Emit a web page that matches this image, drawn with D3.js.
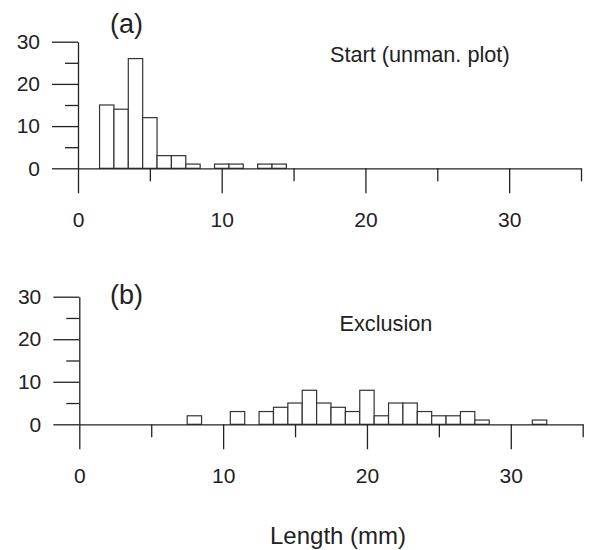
<!DOCTYPE html>
<html>
<head>
<meta charset="utf-8">
<script src="https://cdn.jsdelivr.net/npm/d3@7"></script>
<style>
  html, body { margin: 0; padding: 0; background: #fff; }
  svg { display: block; }
  text { font-family: "Liberation Sans", Arial, Helvetica, sans-serif; fill: #222; }
</style>
</head>
<body>
<svg id="chart" width="589" height="550"></svg>
<script>
// ---- Data ----
const binCentersA = [1, 2, 3, 4, 5, 6, 7, 8, 9, 10, 11, 12, 13, 14, 15];
const countsA     = [0, 15, 14, 26, 12, 3, 3, 1, 0, 1, 1, 0, 1, 1, 0];

const binCentersB = [8, 9, 10, 11, 12, 13, 14, 15, 16, 17, 18, 19, 20, 21, 22, 23, 24, 25, 26, 27, 28, 29, 30, 31, 32];
const countsB     = [2, 0, 0, 3, 0, 3, 4, 5, 8, 5, 4, 3, 8, 2, 5, 5, 3, 2, 2, 3, 1, 0, 0, 0, 1];

const binWidth = 1;
const xMajorTicks = [0, 10, 20, 30];
const xMinorTicks = [5, 15, 25, 35];
const yMajorTicks = [0, 10, 20, 30];
const yMinorTicks = [5, 15, 25];
const panelLabels = ["(a)", "(b)"];
const panelTitles = ["Start (unman. plot)", "Exclusion"];
const xAxisTitle = "Length (mm)";

// ---- Drawing ----
const svg = d3.select("#chart");
const ink = "#222";

const panels = [
  { centers: binCentersA, counts: countsA, x0: 78, x1: 581, y0: 168.3, y1: 41.7,
    label: panelLabels[0], labelPos: [110, 33], title: panelTitles[0], titlePos: [330, 62] },
  { centers: binCentersB, counts: countsB, x0: 79.3, x1: 582.7, y0: 424.3, y1: 296.7,
    label: panelLabels[1], labelPos: [110, 303.5], title: panelTitles[1], titlePos: [339.5, 331] }
];

panels.forEach(p => {
  const x = d3.scaleLinear().domain([0, 35]).range([p.x0, p.x1]);
  const y = d3.scaleLinear().domain([0, 30]).range([p.y0, p.y1]);
  const g = svg.append("g");

  // bars
  g.selectAll("rect.bar")
    .data(p.centers.map((c, i) => ({ c, v: p.counts[i] })))
    .join("rect")
    .attr("class", "bar")
    .attr("x", d => x(d.c - binWidth / 2))
    .attr("width", d => x(d.c + binWidth / 2) - x(d.c - binWidth / 2))
    .attr("y", d => y(d.v))
    .attr("height", d => y(0) - y(d.v))
    .attr("fill", "#fff")
    .attr("stroke", "#333")
    .attr("stroke-width", 1.2);

  // x axis: minor ticks
  g.append("g")
    .attr("transform", `translate(0,${y(0)})`)
    .call(d3.axisBottom(x).tickValues(xMinorTicks).tickSize(13).tickSizeOuter(0).tickFormat(""))
    .call(a => a.attr("color", ink))
    .call(a => a.selectAll("line,path").attr("stroke-width", 1.3));

  // x axis: major ticks with labels
  g.append("g")
    .attr("transform", `translate(0,${y(0)})`)
    .call(d3.axisBottom(x).tickValues(xMajorTicks).tickSize(25).tickSizeOuter(0).tickPadding(18.5).tickFormat(d3.format("d")))
    .call(a => a.attr("color", ink))
    .call(a => a.select(".domain").remove())
    .call(a => a.selectAll("line").attr("stroke-width", 1.3))
    .call(a => a.selectAll("text").attr("font-size", 21).attr("font-family", null));

  // y axis: minor ticks
  g.append("g")
    .attr("transform", `translate(${x(0)},0)`)
    .call(d3.axisLeft(y).tickValues(yMinorTicks).tickSize(13).tickSizeOuter(0).tickFormat(""))
    .call(a => a.attr("color", ink))
    .call(a => a.selectAll("line,path").attr("stroke-width", 1.3));

  // y axis: major ticks with labels
  g.append("g")
    .attr("transform", `translate(${x(0)},0)`)
    .call(d3.axisLeft(y).tickValues(yMajorTicks).tickSize(26).tickSizeOuter(0).tickPadding(12).tickFormat(d3.format("d")))
    .call(a => a.attr("color", ink))
    .call(a => a.select(".domain").remove())
    .call(a => a.selectAll("line").attr("stroke-width", 1.3))
    .call(a => a.selectAll("text").attr("font-size", 21).attr("font-family", null));

  // panel label and title
  g.append("text")
    .attr("x", p.labelPos[0]).attr("y", p.labelPos[1])
    .attr("font-size", 27)
    .text(p.label);
  g.append("text")
    .attr("x", p.titlePos[0]).attr("y", p.titlePos[1])
    .attr("font-size", 21.7)
    .text(p.title);
});

svg.append("text")
  .attr("x", 270).attr("y", 544)
  .attr("font-size", 24)
  .text(xAxisTitle);
</script>
</body>
</html>
